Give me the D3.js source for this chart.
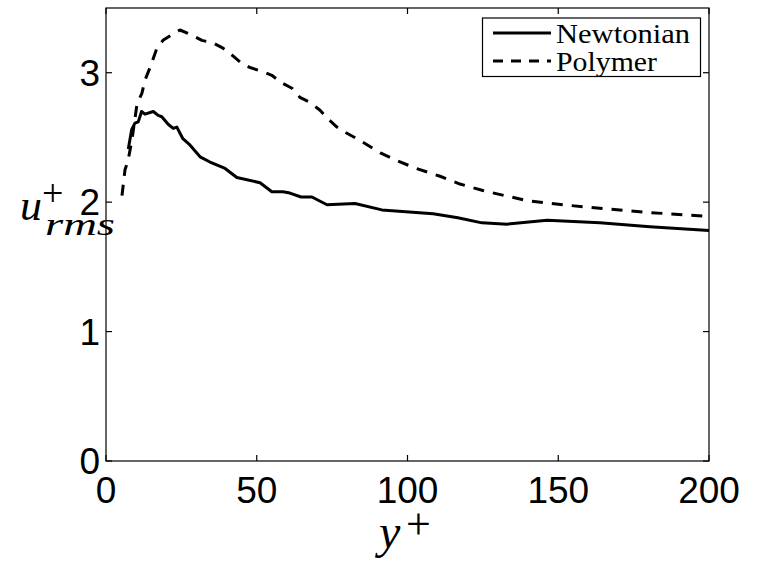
<!DOCTYPE html>
<html>
  <head>
    <title>u+ rms profile</title>
    <style>
      html,
      body {
        margin: 0;
        padding: 0;
        background: #fff;
      }
      svg {
        display: block;
      }
    </style>
  </head>
  <body>
    <div id="viz"></div>
    <script src="https://d3js.org/d3.v7.min.js"></script>
    <script>
      // data
      const newtonianY = [7.4, 8.5, 9.6, 10.7, 11.8, 12.9, 15.7, 17.3, 18.5, 20.7, 22.3, 23.5, 25.5, 27.9, 31.2, 34.5, 39.5, 43.4, 51.1, 55, 58.7, 61, 64.7, 68.3, 73.3, 82.6, 91.5, 108.5, 116.7, 124.7, 133, 146.3, 163.8, 180.4, 200];
      const newtonianU = [2.41, 2.56, 2.61, 2.62, 2.7, 2.68, 2.7, 2.67, 2.66, 2.6, 2.57, 2.58, 2.49, 2.44, 2.35, 2.31, 2.26, 2.19, 2.15, 2.08, 2.08, 2.07, 2.04, 2.04, 1.98, 1.99, 1.94, 1.91, 1.88, 1.84, 1.83, 1.86, 1.84, 1.81, 1.78];

      const polymerY = [5.3, 6.3, 7.3, 8.6, 10.3, 11.9, 12.9, 14.6, 16.9, 18.9, 22.2, 24.5, 28.5, 31.8, 35.5, 38.8, 42.1, 45.1, 47.8, 51.7, 55, 58.4, 61.7, 64.3, 67.7, 71, 73.3, 76.6, 79.3, 84, 91, 96.5, 103, 110.8, 117.4, 125, 132.3, 140, 147.3, 160, 180, 200];
      const polymerU = [2.05, 2.25, 2.32, 2.48, 2.76, 2.84, 2.94, 3.04, 3.19, 3.25, 3.3, 3.33, 3.29, 3.25, 3.23, 3.19, 3.13, 3.07, 3.04, 3.01, 2.98, 2.92, 2.88, 2.81, 2.77, 2.71, 2.65, 2.58, 2.54, 2.48, 2.38, 2.32, 2.26, 2.2, 2.14, 2.09, 2.05, 2.01, 1.99, 1.96, 1.92, 1.89];

      const xTicks = [0, 50, 100, 150, 200];
      const yTicks = [0, 1, 2, 3];
      const seriesNames = ["Newtonian", "Polymer"];

      const width = 757;
      const height = 561;
      const plotLeft = 106, plotRight = 709, plotTop = 8, plotBottom = 461;

      const xScale = d3.scaleLinear().domain([0, 200]).range([plotLeft, plotRight]);
      const yScale = d3.scaleLinear().domain([0, 3.5]).range([plotBottom, plotTop]);

      const svg = d3
        .select("#viz")
        .append("svg")
        .attr("width", width)
        .attr("height", height);

      const line = d3
        .line()
        .x((d) => xScale(d[0]))
        .y((d) => yScale(d[1]));

      const series = [
        { name: seriesNames[0], pts: d3.zip(newtonianY, newtonianU), dash: null },
        { name: seriesNames[1], pts: d3.zip(polymerY, polymerU), dash: "11,9" },
      ];

      // curves
      svg
        .append("g")
        .selectAll("path")
        .data(series)
        .join("path")
        .attr("d", (d) => line(d.pts))
        .attr("fill", "none")
        .attr("stroke", "#000")
        .attr("stroke-width", 3)
        .attr("stroke-linejoin", "round")
        .attr("stroke-dasharray", (d) => d.dash);

      // box with inward ticks on all four sides
      const tickLen = 6;
      const axisG = svg.append("g").attr("stroke", "#000").attr("stroke-width", 1.2);
      axisG
        .append("rect")
        .attr("x", plotLeft)
        .attr("y", plotTop)
        .attr("width", plotRight - plotLeft)
        .attr("height", plotBottom - plotTop)
        .attr("fill", "none");

      xTicks.forEach((t) => {
        axisG.append("line")
          .attr("x1", xScale(t)).attr("x2", xScale(t))
          .attr("y1", plotBottom).attr("y2", plotBottom - tickLen);
        axisG.append("line")
          .attr("x1", xScale(t)).attr("x2", xScale(t))
          .attr("y1", plotTop).attr("y2", plotTop + tickLen);
      });
      yTicks.forEach((t) => {
        axisG.append("line")
          .attr("x1", plotLeft).attr("x2", plotLeft + tickLen)
          .attr("y1", yScale(t)).attr("y2", yScale(t));
        axisG.append("line")
          .attr("x1", plotRight).attr("x2", plotRight - tickLen)
          .attr("y1", yScale(t)).attr("y2", yScale(t));
      });

      // tick labels
      const sans = "'Liberation Sans', Arial, sans-serif";
      svg
        .append("g")
        .selectAll("text")
        .data(xTicks)
        .join("text")
        .attr("x", (d) => xScale(d))
        .attr("y", 503)
        .attr("text-anchor", "middle")
        .attr("font-family", sans)
        .attr("font-size", 37)
        .text((d) => d);

      svg
        .append("g")
        .selectAll("text")
        .data(yTicks)
        .join("text")
        .attr("x", 100)
        .attr("y", (d) => yScale(d) + 13)
        .attr("text-anchor", "end")
        .attr("font-family", sans)
        .attr("font-size", 37)
        .text((d) => d);

      // axis labels
      const serif = "'Liberation Serif', 'DejaVu Serif', serif";
      const xl = svg.append("text").attr("font-family", serif).attr("fill", "#000");
      xl.append("tspan")
        .attr("x", 379).attr("y", 548)
        .attr("font-style", "italic").attr("font-size", 48)
        .text("y");
      xl.append("tspan")
        .attr("x", 406).attr("y", 539)
        .attr("font-size", 44)
        .text("+");

      const yl = svg.append("text").attr("font-family", serif).attr("fill", "#000");
      yl.append("tspan")
        .attr("x", 20).attr("y", 220)
        .attr("font-style", "italic").attr("font-size", 44)
        .text("u");
      yl.append("tspan")
        .attr("x", 42).attr("y", 206)
        .attr("font-size", 38)
        .text("+");
      yl.append("tspan")
        .attr("x", 45).attr("y", 235)
        .attr("font-style", "italic").attr("font-size", 32)
        .attr("textLength", 70)
        .attr("lengthAdjust", "spacingAndGlyphs")
        .text("rms");

      // legend
      const lg = svg.append("g");
      lg.append("rect")
        .attr("x", 482.5).attr("y", 18)
        .attr("width", 218).attr("height", 58.5)
        .attr("fill", "#fff")
        .attr("stroke", "#000")
        .attr("stroke-width", 1.2);
      const rows = lg
        .selectAll("g")
        .data(series)
        .join("g")
        .attr("transform", (d, i) => `translate(0,${i === 0 ? 33 : 61})`);
      rows.append("line")
        .attr("x1", 493).attr("x2", 551)
        .attr("stroke", "#000")
        .attr("stroke-width", 3)
        .attr("stroke-dasharray", (d) => (d.dash ? "10,8" : null));
      rows.append("text")
        .attr("x", 556)
        .attr("y", 10)
        .attr("font-family", serif)
        .attr("font-size", 27)
        .attr("textLength", (d, i) => (i === 0 ? 134 : 101))
        .attr("lengthAdjust", "spacingAndGlyphs")
        .text((d) => d.name);
    </script>
  </body>
</html>
